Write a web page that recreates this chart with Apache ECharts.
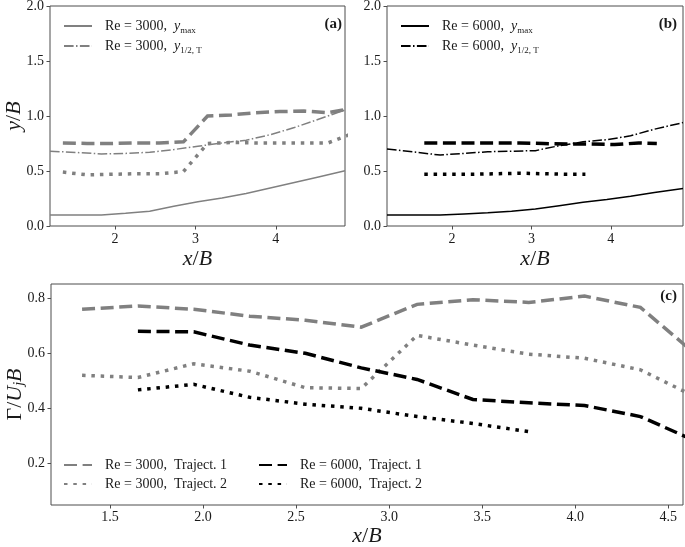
<!DOCTYPE html>
<html>
<head>
<meta charset="utf-8">
<script src="https://cdn.jsdelivr.net/npm/echarts@6/dist/echarts.min.js"></script>
<style>
html,body{margin:0;padding:0;background:#fff;}
#chart{width:685px;height:547px;}
</style>
</head>
<body>
<div id="chart"></div>
<script>
// ---------- DATA ----------
// Panel (a): Re = 3000
const aProfX      = [1.19, 1.53, 1.83, 2.13, 2.43, 2.73, 3.03, 3.33, 3.63, 3.93, 4.23, 4.53, 4.86];
const aYmax       = [0.10, 0.10, 0.10, 0.115, 0.135, 0.18, 0.22, 0.255, 0.295, 0.345, 0.395, 0.445, 0.503];
const aYhalf      = [0.68, 0.668, 0.655, 0.66, 0.67, 0.695, 0.725, 0.755, 0.78, 0.83, 0.895, 0.97, 1.055];
const aTrajX      = [1.35, 1.65, 1.95, 2.25, 2.55, 2.85, 3.15, 3.45, 3.75, 4.05, 4.35, 4.65, 4.95];
const aTraj1      = [0.755, 0.75, 0.75, 0.755, 0.755, 0.765, 1.0, 1.01, 1.03, 1.04, 1.045, 1.03, 1.07];
const aTraj2      = [0.49, 0.465, 0.47, 0.475, 0.475, 0.495, 0.75, 0.76, 0.755, 0.755, 0.755, 0.755, 0.84];
// Panel (b): Re = 6000
const bProfX      = [1.18, 1.55, 1.85, 2.15, 2.45, 2.75, 3.05, 3.35, 3.65, 3.95, 4.25, 4.55, 4.91];
const bYmax       = [0.10, 0.10, 0.10, 0.11, 0.12, 0.135, 0.155, 0.185, 0.215, 0.24, 0.27, 0.305, 0.34];
const bYhalf      = [0.70, 0.67, 0.645, 0.66, 0.675, 0.68, 0.685, 0.73, 0.765, 0.785, 0.82, 0.88, 0.94];
const bTraj1X     = [1.65, 1.95, 2.25, 2.55, 2.85, 3.15, 3.45, 3.75, 4.05, 4.35, 4.58];
const bTraj1      = [0.755, 0.755, 0.755, 0.755, 0.755, 0.75, 0.745, 0.745, 0.74, 0.755, 0.75];
const bTraj2X     = [1.65, 1.95, 2.25, 2.55, 2.85, 3.15, 3.45, 3.68];
const bTraj2      = [0.47, 0.47, 0.47, 0.475, 0.48, 0.475, 0.47, 0.47];
// Panel (c): circulation
const c3000X      = [1.35, 1.65, 1.95, 2.25, 2.55, 2.85, 3.15, 3.45, 3.75, 4.05, 4.35, 4.65];
const c3000Traj1  = [0.76, 0.772, 0.76, 0.735, 0.72, 0.695, 0.778, 0.795, 0.785, 0.808, 0.767, 0.595];
const c3000Traj2  = [0.52, 0.512, 0.562, 0.535, 0.475, 0.472, 0.665, 0.63, 0.597, 0.582, 0.54, 0.44];
const c6000X1     = [1.65, 1.95, 2.25, 2.55, 2.85, 3.15, 3.45, 3.75, 4.05, 4.35, 4.65];
const c6000Traj1  = [0.68, 0.678, 0.63, 0.60, 0.547, 0.505, 0.432, 0.42, 0.41, 0.37, 0.28];
const c6000X2     = [1.65, 1.95, 2.25, 2.55, 2.85, 3.15, 3.45, 3.75];
const c6000Traj2  = [0.467, 0.487, 0.44, 0.415, 0.40, 0.37, 0.345, 0.315];
// Tick labels
const abXTicks = [2, 3, 4];
const abYTicks = [0, 0.5, 1.0, 1.5, 2.0];
const cXTicks  = [1.5, 2.0, 2.5, 3.0, 3.5, 4.0, 4.5];
const cYTicks  = [0.2, 0.4, 0.6, 0.8];

// ---------- STYLE ----------
const GRAY = '#808080';
const BLACK = '#000000';
const FONT = 'Liberation Serif';
const FRAME = '#4d4d4d';
const TXT = '#1a1a1a';
const pairs = (xs, ys) => xs.map((x, i) => [x, ys[i]]);

const THICK = 3.5;
const DASH = [13, 5.6];
const DOT = [3.5, 5.8];
const THIN = 1.5;
const DASHDOT = [9.6, 2.4, 1.5, 2.4];

function line(name, xi, data, color, width, type) {
  return {
    name, type: 'line', xAxisIndex: xi, yAxisIndex: xi, data,
    symbol: 'none', smooth: false, clip: true, silent: true, animation: false,
    lineStyle: { color, width, type, cap: 'butt', join: 'miter' },
    itemStyle: { color }
  };
}

const nameRich = {
  i: { fontFamily: FONT, fontStyle: 'italic', fontSize: 22, color: TXT },
  n: { fontFamily: FONT, fontSize: 22, color: TXT },
  s: { fontFamily: FONT, fontStyle: 'italic', fontSize: 14, color: TXT, padding: [8, 0, 0, 0] }
};

function xAxis(gi, min, max, ticks, fmt, margin, gap) {
  return {
    type: 'value', gridIndex: gi, min, max,
    axisLine: { show: false },
    splitLine: { show: false },
    axisTick: { show: true, length: 3.5, inside: false, customValues: ticks, lineStyle: { color: FRAME, width: 1 } },
    axisLabel: { customValues: ticks, formatter: fmt, margin, color: TXT, fontFamily: FONT, fontSize: 14 },
    name: '{i|x}{n|/}{i|B}', nameLocation: 'middle', nameGap: gap,
    nameTextStyle: { color: TXT, fontFamily: FONT, fontSize: 22, rich: nameRich }
  };
}
function yAxis(gi, min, max, ticks, fmt, name, gap) {
  return {
    type: 'value', gridIndex: gi, min, max,
    axisLine: { show: false },
    splitLine: { show: false },
    axisTick: { show: true, length: 3.5, inside: false, customValues: ticks, lineStyle: { color: FRAME, width: 1 } },
    axisLabel: { customValues: ticks, formatter: fmt, margin: 6, color: TXT, fontFamily: FONT, fontSize: 14 },
    name, nameLocation: 'middle', nameGap: gap, nameRotate: 90, nameMoveOverlap: false,
    nameTextStyle: { color: TXT, fontFamily: FONT, fontSize: 22, rich: nameRich }
  };
}

const legendRich = {
  r: { fontFamily: FONT, fontSize: 14, color: TXT },
  i: { fontFamily: FONT, fontSize: 14, fontStyle: 'italic', color: TXT },
  s: { fontFamily: FONT, fontSize: 9, color: TXT, padding: [9, 0, 0, 0] }
};
const legendText = {
  'a_ymax':  '{r|Re = 3000,  }{i|y}{s|max}',
  'a_yhalf': '{r|Re = 3000,  }{i|y}{s|1/2, T}',
  'b_ymax':  '{r|Re = 6000,  }{i|y}{s|max}',
  'b_yhalf': '{r|Re = 6000,  }{i|y}{s|1/2, T}',
  'c_31': '{r|Re = 3000,  Traject. 1}',
  'c_32': '{r|Re = 3000,  Traject. 2}',
  'c_61': '{r|Re = 6000,  Traject. 1}',
  'c_62': '{r|Re = 6000,  Traject. 2}'
};
function legend(left, top, names, gap) {
  return {
    left, top, orient: 'vertical', itemGap: gap, itemWidth: 28, itemHeight: 14,
    padding: 0, data: names, selectedMode: false,
    itemStyle: { opacity: 0 },
    formatter: n => legendText[n],
    textStyle: { fontFamily: FONT, fontSize: 14, color: TXT, padding: [0, 0, 0, 8], rich: legendRich }
  };
}

const f1 = v => v.toFixed(1);
const f0 = v => String(Math.round(v));

const option = {
  backgroundColor: '#ffffff',
  animation: false,
  grid: [
    { left: 50, top: 6, width: 295, height: 220, show: true, borderColor: FRAME, borderWidth: 1, backgroundColor: 'transparent', outerBoundsMode: 'none' },
    { left: 387, top: 6, width: 296, height: 220, show: true, borderColor: FRAME, borderWidth: 1, backgroundColor: 'transparent', outerBoundsMode: 'none' },
    { left: 51, top: 284, width: 632, height: 221, show: true, borderColor: FRAME, borderWidth: 1, backgroundColor: 'transparent', outerBoundsMode: 'none' }
  ],
  xAxis: [
    xAxis(0, 1.19, 4.86, abXTicks, f0, 6, 22),
    xAxis(1, 1.18, 4.91, abXTicks, f0, 6, 22),
    xAxis(2, 1.183, 4.579, cXTicks, f1, 5, 20)
  ],
  yAxis: [
    yAxis(0, 0, 2.0, abYTicks, f1, '{i|y}{n|/}{i|B}', 25),
    yAxis(1, 0, 2.0, abYTicks, f1, '', 26),
    yAxis(2, 0.0484, 0.852, cYTicks, f1, '{n|Γ/}{i|U}{s|j}{i|B}', 25)
  ],
  title: [
    { text: '(a)', right: 343, top: 17, padding: 0, textStyle: { fontFamily: FONT, fontWeight: 'bold', fontSize: 15, color: TXT } },
    { text: '(b)', right: 8, top: 17, padding: 0, textStyle: { fontFamily: FONT, fontWeight: 'bold', fontSize: 15, color: TXT } },
    { text: '(c)', right: 8, top: 289, padding: 0, textStyle: { fontFamily: FONT, fontWeight: 'bold', fontSize: 15, color: TXT } }
  ],
  legend: [
    legend(63, 19, ['a_ymax', 'a_yhalf'], 4),
    legend(400, 19, ['b_ymax', 'b_yhalf'], 4),
    legend(63, 458, ['c_31', 'c_32'], 5),
    legend(258, 458, ['c_61', 'c_62'], 5)
  ],
  series: [
    line('a_ymax', 0, pairs(aProfX, aYmax), GRAY, THIN, 'solid'),
    line('a_yhalf', 0, pairs(aProfX, aYhalf), GRAY, THIN, DASHDOT),
    line('a_t1', 0, pairs(aTrajX, aTraj1), GRAY, THICK, DASH),
    line('a_t2', 0, pairs(aTrajX, aTraj2), GRAY, THICK, DOT),
    line('b_ymax', 1, pairs(bProfX, bYmax), BLACK, THIN, 'solid'),
    line('b_yhalf', 1, pairs(bProfX, bYhalf), BLACK, THIN, DASHDOT),
    line('b_t1', 1, pairs(bTraj1X, bTraj1), BLACK, THICK, DASH),
    line('b_t2', 1, pairs(bTraj2X, bTraj2), BLACK, THICK, DOT),
    line('c_31', 2, pairs(c3000X, c3000Traj1), GRAY, THICK, DASH),
    line('c_32', 2, pairs(c3000X, c3000Traj2), GRAY, THICK, DOT),
    line('c_61', 2, pairs(c6000X1, c6000Traj1), BLACK, THICK, DASH),
    line('c_62', 2, pairs(c6000X2, c6000Traj2), BLACK, THICK, DOT)
  ]
};

const chart = echarts.init(document.getElementById('chart'), null, { renderer: 'canvas' });
chart.setOption(option);
</script>
</body>
</html>
